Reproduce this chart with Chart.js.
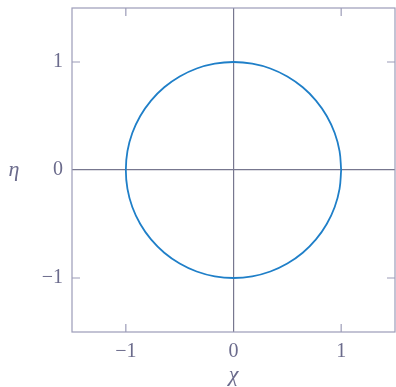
<!DOCTYPE html>
<html>
<head>
<meta charset="utf-8">
<script src="https://cdn.jsdelivr.net/npm/chart.js@4"></script>
<style>
  html, body { margin: 0; padding: 0; background: #ffffff; }
  #wrap { width: 396px; height: 387px; }
</style>
</head>
<body>
<div id="wrap"><canvas id="circleChart" width="396" height="387"></canvas></div>
<script>
// unit circle, 10 degree steps
const chiValues = [1, 0.985, 0.94, 0.866, 0.766, 0.643, 0.5, 0.342, 0.174, 0,
  -0.174, -0.342, -0.5, -0.643, -0.766, -0.866, -0.94, -0.985, -1,
  -0.985, -0.94, -0.866, -0.766, -0.643, -0.5, -0.342, -0.174, 0,
  0.174, 0.342, 0.5, 0.643, 0.766, 0.866, 0.94, 0.985, 1];
const etaValues = [0, 0.174, 0.342, 0.5, 0.643, 0.766, 0.866, 0.94, 0.985, 1,
  0.985, 0.94, 0.866, 0.766, 0.643, 0.5, 0.342, 0.174, 0,
  -0.174, -0.342, -0.5, -0.643, -0.766, -0.866, -0.94, -0.985, -1,
  -0.985, -0.94, -0.866, -0.766, -0.643, -0.5, -0.342, -0.174, 0];
const tickValues = [-1, 0, 1];
const axisRange = [-1.5, 1.5];
const xTitle = "χ";
const yTitle = "η";

const textColor = "#6b6b8c";
const frameColor = "#9c9cb8";
const zeroColor = "#77778f";
const labelFont = { family: "'Liberation Serif', serif", size: 20 };

function fmt(v) {
  return v < 0 ? "\u2212" + Math.abs(v) : String(v);
}

// frame, inner ticks on all sides, and the axis titles
const framePlugin = {
  id: "frame",
  afterDraw(chart) {
    const ctx = chart.ctx;
    const a = chart.chartArea;
    const xs = chart.scales.x;
    const ys = chart.scales.y;
    const len = 8;
    ctx.save();
    ctx.strokeStyle = frameColor;
    ctx.lineWidth = 1.2;
    ctx.strokeRect(a.left, a.top, a.right - a.left, a.bottom - a.top);
    ctx.beginPath();
    tickValues.forEach(v => {
      const px = xs.getPixelForValue(v);
      const py = ys.getPixelForValue(v);
      if (v !== 0) {
        ctx.moveTo(px, a.bottom); ctx.lineTo(px, a.bottom - len);
        ctx.moveTo(px, a.top); ctx.lineTo(px, a.top + len);
        ctx.moveTo(a.left, py); ctx.lineTo(a.left + len, py);
        ctx.moveTo(a.right, py); ctx.lineTo(a.right - len, py);
      }
    });
    ctx.stroke();

    ctx.fillStyle = textColor;
    ctx.font = "italic 22px 'Liberation Serif', serif";
    ctx.textAlign = "center";
    ctx.textBaseline = "middle";
    ctx.fillText(xTitle, xs.getPixelForValue(0), 375);
    ctx.fillText(yTitle, 14, ys.getPixelForValue(0));
    ctx.restore();
  }
};

const zeroGrid = ctx => (ctx.tick && ctx.tick.value === 0 ? zeroColor : "rgba(0,0,0,0)");

new Chart(document.getElementById("circleChart").getContext("2d"), {
  type: "scatter",
  data: {
    datasets: [{
      data: chiValues.map((c, i) => ({ x: c, y: etaValues[i] })),
      showLine: true,
      borderColor: "#1f7fc8",
      borderWidth: 1.8,
      pointRadius: 0,
      tension: 0.4,
      fill: false
    }]
  },
  options: {
    responsive: false,
    animation: false,
    layout: { padding: { top: 8, right: 1, left: 0, bottom: 0 } },
    plugins: { legend: { display: false }, tooltip: { enabled: false } },
    scales: {
      x: {
        type: "linear",
        min: axisRange[0],
        max: axisRange[1],
        afterBuildTicks: s => { s.ticks = tickValues.map(v => ({ value: v })); },
        afterFit: s => { s.height = 55; s.paddingLeft = 0; s.paddingRight = 0; },
        border: { display: false },
        grid: { color: zeroGrid, lineWidth: 1.2, drawTicks: false },
        ticks: { color: textColor, font: labelFont, padding: 8, maxRotation: 0, callback: fmt }
      },
      y: {
        type: "linear",
        min: axisRange[0],
        max: axisRange[1],
        afterBuildTicks: s => { s.ticks = tickValues.map(v => ({ value: v })); },
        afterFit: s => { s.width = 72; s.paddingTop = 0; s.paddingBottom = 0; },
        border: { display: false },
        grid: { color: zeroGrid, lineWidth: 1.2, drawTicks: false },
        ticks: { color: textColor, font: labelFont, padding: 9, callback: fmt }
      }
    }
  },
  plugins: [framePlugin]
});
</script>
</body>
</html>
